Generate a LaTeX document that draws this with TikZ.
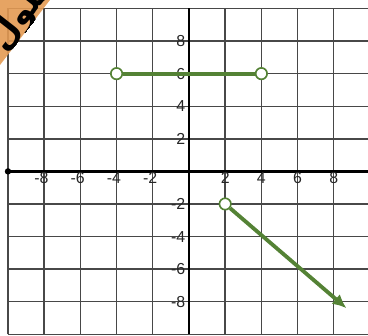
\documentclass[tikz,border=0pt]{standalone}
\usepackage{fontspec}
\setmainfont{Liberation Sans}
\newfontfamily\arabicfont[Script=Arabic]{DejaVu Sans}
\TeXXeTstate=1
\usetikzlibrary{arrows.meta}
\definecolor{plotgreen}{HTML}{548235}
\definecolor{gridgray}{HTML}{484848}
\definecolor{logoorange}{HTML}{E39A52}

\begin{document}
\begin{tikzpicture}[
    x=0.5cm,
    y=0.45cm,
    font=\fontsize{12.5}{14}\selectfont,
    gridline/.style={draw=gridgray, line width=1.1pt},
    axisline/.style={draw=black, line width=2.2pt},
    piece/.style={draw=plotgreen, line width=3pt},
    opendot/.style={circle, draw=plotgreen, line width=1.3pt, fill=white, minimum size=9pt, inner sep=0pt},
    enddot/.style={circle, fill=black, minimum size=5pt, inner sep=0pt},
    ticklabel/.style={inner sep=1pt, text=black!85}
  ]
    \useasboundingbox (-10.44,-10.08) rectangle (9.89,10.52);

    % grid
    \foreach \g in {-10,-8,...,10} {
      \draw[gridline] (\g,-10) -- (\g,10);
      \draw[gridline] (-10,\g) -- (10,\g);
    }

    % axes
    \node[enddot] (xstart) at (-10,0) {};
    \coordinate (xend) at (10,0);
    \coordinate (ybot) at (0,-10);
    \coordinate (ytop) at (0,10);
    \draw[axisline] (xstart.center) -- (xend);
    \draw[axisline] (ybot) -- (ytop);

    % tick labels
    \foreach \v in {2,4,6,8} {
      \node[ticklabel] (xp\v) at (\v,-0.42) {\v};
      \node[ticklabel] (xm\v) at (-\v,-0.42) {\llap{-}\v};
      \node[ticklabel, anchor=east] (yp\v) at (-0.12,\v) {\v};
      \node[ticklabel, anchor=east] (ym\v) at (-0.12,-\v) {-\v};
    }

    % pieces
    \node[opendot] (leftend) at (-4,6) {};
    \node[opendot] (rightend) at (4,6) {};
    \draw[piece] (leftend) -- (rightend);
    \node[opendot] (rayend) at (2,-2) {};
    \coordinate (raytip) at (8.7,-8.4);
    \draw[piece, -{Latex[length=11pt, width=10pt]}] (rayend) -- (raytip);

    % corner logo
    \begin{scope}
      \clip (-10.44,10.52) -- (-7.68,10.52) -- (-10.44,6.53) -- cycle;
      \fill[logoorange, opacity=0.9] (-10.44,10.52) rectangle (-7.5,6.4);
      \node[rotate=52, anchor=west, inner sep=0pt] (logo) at (-10.6,7.6) {\arabicfont\bfseries\fontsize{27}{27}\selectfont\beginR حلول\endR};
    \end{scope}
  \end{tikzpicture}
\end{document}
